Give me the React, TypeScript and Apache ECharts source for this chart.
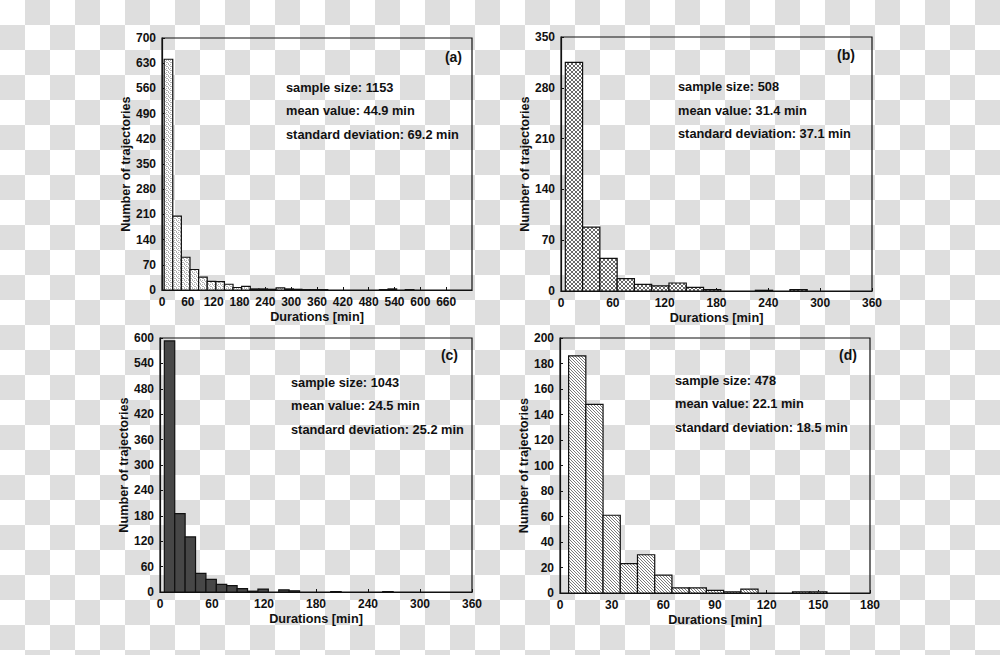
import React, { useEffect, useRef } from 'react';
import * as echarts from 'echarts';

// ---- data ----
const binStartA = 5;
const binWidthA = 20;
const countsA = [641, 205, 91, 57, 36, 24, 23, 16, 7, 10, 3, 3, 2, 6, 3, 2, 1, 1, 1, 0, 0, 0, 0, 0, 0, 1, 3, 0, 1];
const statsA = ['sample size: 1153', 'mean value: 44.9 min', 'standard deviation: 69.2 min'];

const binStartB = 5;
const binWidthB = 20;
const countsB = [315, 88, 45, 17, 9, 7, 11, 5, 2, 0, 0, 1, 0, 2];
const statsB = ['sample size: 508', 'mean value: 31.4 min', 'standard deviation: 37.1 min'];

const binStartC = 5;
const binWidthC = 12;
const countsC = [593, 185, 130, 44, 30, 18, 15, 8, 2, 7, 0, 5, 3, 0, 0, 0, 1, 0, 0, 0, 0, 1];
const statsC = ['sample size: 1043', 'mean value: 24.5 min', 'standard deviation: 25.2 min'];

const binStartD = 5;
const binWidthD = 10;
const countsD = [186, 148, 61, 23, 30, 14, 4, 4, 2, 1, 3, 0, 0, 1, 1];
const statsD = ['sample size: 478', 'mean value: 22.1 min', 'standard deviation: 18.5 min'];

const panelLabels = ['(a)', '(b)', '(c)', '(d)'];
const xMaxes = [720, 360, 360, 180];
const xIntervals = [60, 60, 60, 30];
const yMaxes = [700, 350, 600, 200];
const yIntervals = [70, 70, 60, 20];

const xName = 'Durations [min]';
const yName = 'Number of trajectories';

const FONT = '"Liberation Sans", Arial, sans-serif';

function bins(start: number, width: number, counts: number[]) {
  const out: number[][] = [];
  counts.forEach((c, i) => {
    if (c > 0) out.push([start + i * width, start + (i + 1) * width, c]);
  });
  return out;
}

function makePattern(size: number, fg: string, bg: string, cells: number[][]) {
  const c = document.createElement('canvas');
  c.width = size;
  c.height = size;
  const ctx = c.getContext('2d')!;
  ctx.fillStyle = bg;
  ctx.fillRect(0, 0, size, size);
  ctx.fillStyle = fg;
  cells.forEach(([x, y]) => ctx.fillRect(x, y, 1, 1));
  return { image: c.toDataURL(), repeat: 'repeat', imageWidth: size, imageHeight: size };
}

export default function App() {
  const ref = useRef<HTMLDivElement>(null);
  useEffect(() => {
    if (!ref.current) return;
    const chart = echarts.init(ref.current, undefined, { renderer: 'svg' });

    const patA = makePattern(4, '#b4b4b4', '#ffffff', [[0, 0], [2, 0], [1, 1], [3, 2], [0, 3], [2, 2]]);
    const patB = makePattern(4, '#6a6a6a', '#ffffff', [[0, 0], [1, 1], [2, 2], [3, 3], [3, 0], [2, 1], [1, 2], [0, 3]]);
    const patC = '#474747';
    const patD = makePattern(3, '#7a7a7a', '#ffffff', [[0, 0], [1, 1], [2, 2]]);
    const fills: any[] = [patA, patB, patC, patD];

    const grids = [
      { left: 162, top: 38, width: 310, height: 252 },
      { left: 561, top: 37, width: 311, height: 254 },
      { left: 160, top: 338, width: 312, height: 254 },
      { left: 560, top: 338, width: 310, height: 255 },
    ];

    const dataSets = [
      bins(binStartA, binWidthA, countsA),
      bins(binStartB, binWidthB, countsB),
      bins(binStartC, binWidthC, countsC),
      bins(binStartD, binWidthD, countsD),
    ];
    const stats = [statsA, statsB, statsC, statsD];
    const statPos = [
      [286, 87],
      [678, 86.5],
      [291, 382],
      [675, 380],
    ];
    const labelPos = [
      [462, 57],
      [855, 54.5],
      [458, 354.5],
      [857, 354.5],
    ];

    const axisLabel = { fontFamily: FONT, fontWeight: 'bold' as const, fontSize: 12, color: '#111' };
    const nameStyle = { fontFamily: FONT, fontWeight: 'bold' as const, fontSize: 12.7, color: '#111' };

    const graphic: any[] = [];
    stats.forEach((lines, i) => {
      lines.forEach((t, j) => {
        graphic.push({
          type: 'text',
          x: statPos[i][0],
          y: statPos[i][1] + j * 23.5,
          style: {
            text: t,
            font: `bold 12.8px ${FONT}`,
            fill: '#111',
            align: 'left',
            verticalAlign: 'middle',
          },
        });
      });
      graphic.push({
        type: 'text',
        x: labelPos[i][0],
        y: labelPos[i][1],
        style: {
          text: panelLabels[i],
          font: `bold 14px ${FONT}`,
          fill: '#111',
          align: 'right',
          verticalAlign: 'middle',
        },
      });
    });

    const option: any = {
      animation: false,
      grid: grids.map((g) => ({ ...g, show: true, borderColor: '#111', borderWidth: 1.2, backgroundColor: 'transparent' })),
      xAxis: grids.map((_, i) => ({
        type: 'value',
        gridIndex: i,
        min: 0,
        max: xMaxes[i],
        interval: xIntervals[i],
        name: xName,
        nameLocation: 'middle',
        nameGap: 20,
        nameTextStyle: nameStyle,
        axisLine: { show: true, lineStyle: { color: '#111', width: 1.2 } },
        axisTick: { show: true, inside: true, length: 3, lineStyle: { color: '#111' } },
        axisLabel: { ...axisLabel, margin: 6, showMaxLabel: i === 0 ? false : true },
        splitLine: { show: false },
      })),
      yAxis: grids.map((_, i) => ({
        type: 'value',
        gridIndex: i,
        min: 0,
        max: yMaxes[i],
        interval: yIntervals[i],
        name: yName,
        nameLocation: 'middle',
        nameGap: 28,
        nameTextStyle: nameStyle,
        axisLine: { show: true, lineStyle: { color: '#111', width: 1.2 } },
        axisTick: { show: true, inside: true, length: 3, lineStyle: { color: '#111' } },
        axisLabel: { ...axisLabel, margin: 6 },
        splitLine: { show: false },
      })),
      series: dataSets.map((d, i) => ({
        type: 'custom',
        xAxisIndex: i,
        yAxisIndex: i,
        data: d,
        encode: { x: [0, 1], y: 2 },
        clip: true,
        renderItem: (params: any, api: any) => {
          const s = api.value(0);
          const e = api.value(1);
          const c = api.value(2);
          const p0 = api.coord([s, c]);
          const p1 = api.coord([e, 0]);
          return {
            type: 'rect',
            shape: { x: p0[0], y: p0[1], width: p1[0] - p0[0], height: p1[1] - p0[1] },
            style: { fill: fills[i], stroke: '#111', lineWidth: 1.2 },
          };
        },
      })),
      graphic,
    };
    chart.setOption(option);
    return () => chart.dispose();
  }, []);

  return (
    <div
      style={{
        position: 'absolute',
        left: 0,
        top: 0,
        width: 1000,
        height: 655,
        backgroundColor: '#ffffff',
        backgroundImage: 'conic-gradient(#dedede 0 25%, #ffffff 0 50%, #dedede 0 75%, #ffffff 0)',
        backgroundSize: '50px 50px',
      }}
    >
      <div ref={ref} style={{ width: 1000, height: 655 }} />
    </div>
  );
}
